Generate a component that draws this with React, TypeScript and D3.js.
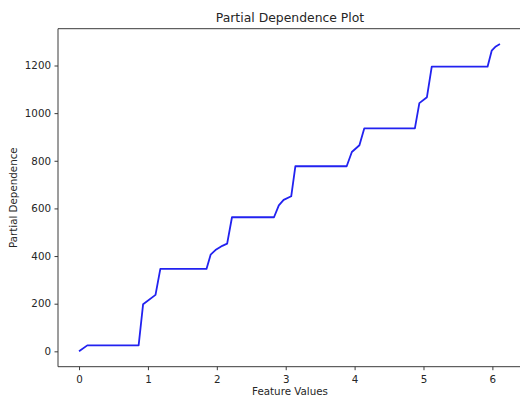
import React, { useRef, useEffect } from "react";
import * as d3 from "d3";

// values (kinks of the PDP line)
const featureValues = [
  0, 0.12, 0.865, 0.93, 1.11, 1.18, 1.85, 1.91, 1.98, 2.08, 2.15, 2.22, 2.83,
  2.9, 2.97, 3.08, 3.14, 3.885, 3.96, 4.07, 4.14, 4.875, 4.94, 5.05, 5.12,
  5.93, 5.99, 6.05, 6.11,
];
const partialDependence = [
  0, 25, 25, 198, 237, 346, 346, 406, 425, 443, 452, 563, 563, 613, 636, 651,
  777, 777, 837, 865, 936, 936, 1042, 1067, 1195, 1195, 1262, 1280, 1290,
];
const xTicks = [0, 1, 2, 3, 4, 5, 6];
const yTicks = [0, 200, 400, 600, 800, 1000, 1200];

const App = () => {
  const svgRef = useRef<SVGSVGElement>(null);

  useEffect(() => {
    const svg = d3.select(svgRef.current);
    svg.selectAll("*").remove();

    const width = 520;
    const height = 398;
    const margin = { top: 28.7, right: -1, bottom: 31.3, left: 58 };
    const font = "DejaVu Sans, sans-serif";
    const textColor = "#262626";
    const spineColor = "#3a3a3a";

    const xMin = d3.min(featureValues) as number;
    const xMax = d3.max(featureValues) as number;
    const yMin = d3.min(partialDependence) as number;
    const yMax = d3.max(partialDependence) as number;
    const xPad = (xMax - xMin) * 0.05;
    const yPad = (yMax - yMin) * 0.05;

    const x = d3
      .scaleLinear()
      .domain([xMin - xPad, xMax + xPad])
      .range([margin.left, width - margin.right]);

    const y = d3
      .scaleLinear()
      .domain([yMin - yPad, yMax + yPad])
      .range([height - margin.bottom, margin.top]);

    svg.append("rect").attr("width", width).attr("height", height).attr("fill", "#fff");

    // spines
    const x0 = x.range()[0];
    const x1 = x.range()[1];
    const yb = y.range()[0];
    const yt = y.range()[1];
    svg
      .append("path")
      .attr("d", `M${x1},${yt}H${x0}V${yb}H${x1}V${yt}`)
      .attr("fill", "none")
      .attr("stroke", spineColor)
      .attr("stroke-width", 1);

    // axes
    const xAxis = svg
      .append("g")
      .attr("transform", `translate(0,${yb})`)
      .call(
        d3
          .axisBottom(x)
          .tickValues(xTicks)
          .tickFormat(d3.format("d"))
          .tickSize(3.5)
          .tickSizeOuter(0)
          .tickPadding(5)
      );

    const yAxis = svg
      .append("g")
      .attr("transform", `translate(${x0},0)`)
      .call(
        d3
          .axisLeft(y)
          .tickValues(yTicks)
          .tickFormat(d3.format("d"))
          .tickSize(3.5)
          .tickSizeOuter(0)
          .tickPadding(3.5)
      );

    [xAxis, yAxis].forEach((g) => {
      g.select(".domain").remove();
      g.selectAll("line").attr("stroke", spineColor);
      g.selectAll("text")
        .attr("fill", textColor)
        .style("font-family", font)
        .style("font-size", "10.3px");
    });

    // PDP line
    const line = d3
      .line<number>()
      .x((d, i) => x(featureValues[i]))
      .y((d) => y(d));

    svg
      .append("path")
      .datum(partialDependence)
      .attr("d", line)
      .attr("fill", "none")
      .attr("stroke", "#2222f0")
      .attr("stroke-width", 1.8)
      .attr("stroke-linejoin", "round");

    // title and labels
    svg
      .append("text")
      .attr("x", 290)
      .attr("y", 21.5)
      .attr("text-anchor", "middle")
      .attr("fill", textColor)
      .style("font-family", font)
      .style("font-size", "12.4px")
      .text("Partial Dependence Plot");

    svg
      .append("text")
      .attr("x", 290)
      .attr("y", 395)
      .attr("text-anchor", "middle")
      .attr("fill", textColor)
      .style("font-family", font)
      .style("font-size", "10.3px")
      .text("Feature Values");

    svg
      .append("text")
      .attr("transform", "rotate(-90)")
      .attr("x", -(yt + yb) / 2)
      .attr("y", 17)
      .attr("text-anchor", "middle")
      .attr("fill", textColor)
      .style("font-family", font)
      .style("font-size", "10.3px")
      .text("Partial Dependence");
  }, []);

  return (
    <svg
      ref={svgRef}
      width={520}
      height={398}
      style={{ position: "absolute", left: 0, top: 0, display: "block" }}
    ></svg>
  );
};

export default App;
